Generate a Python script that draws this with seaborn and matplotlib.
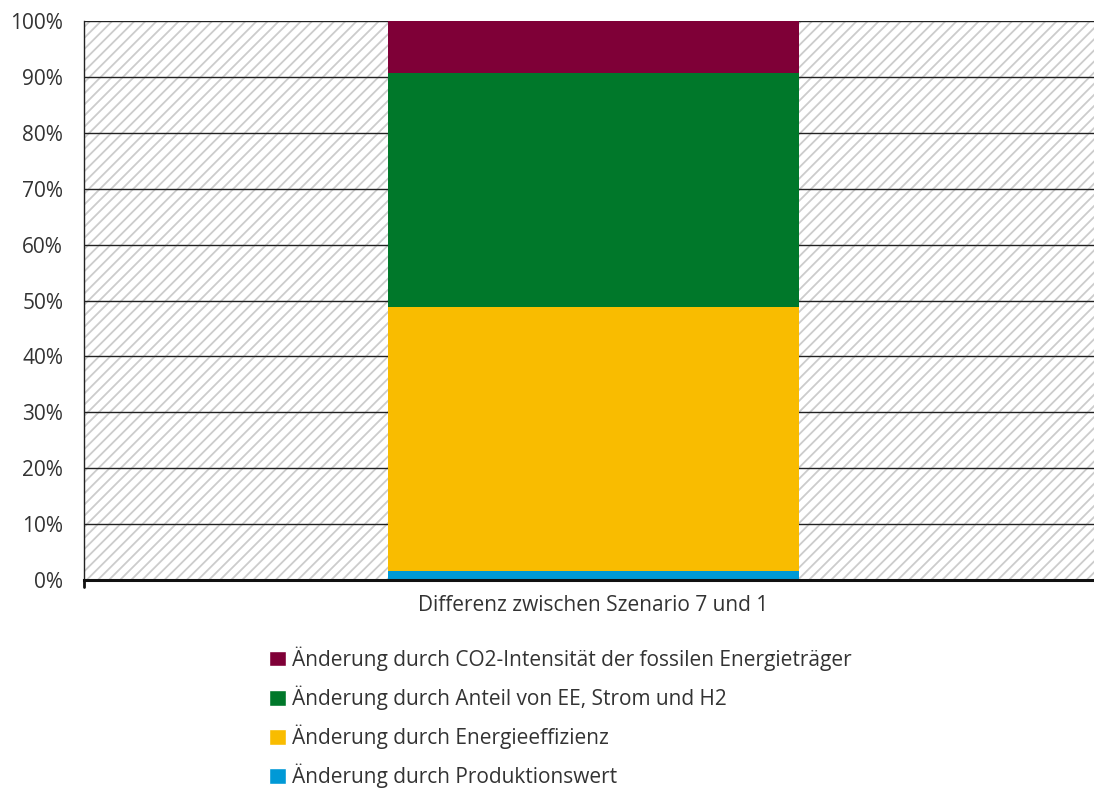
import pandas as pd
import matplotlib.pyplot as plt
import seaborn as sns
from matplotlib.patches import Rectangle, Patch
from matplotlib.ticker import PercentFormatter

sns.set_style("white")
plt.rcParams["font.family"] = ["Open Sans", "DejaVu Sans"]
plt.rcParams["hatch.color"] = "#cccccc"
plt.rcParams["hatch.linewidth"] = 1.3

category = ["Differenz zwischen Szenario 7 und 1"]
components = [
    "Änderung durch Produktionswert",
    "Änderung durch Energieeffizienz",
    "Änderung durch Anteil von EE, Strom und H2",
    "Änderung durch CO2-Intensität der fossilen Energieträger",
]
shares = [1.7, 47.2, 41.8, 9.3]
colors = ["#0099D6", "#F9BC00", "#00782A", "#7F0037"]

df = pd.DataFrame({"Szenario": category * len(components),
                   "Komponente": components,
                   "Anteil": shares})
df["bottom"] = df["Anteil"].cumsum() - df["Anteil"]

fig = plt.figure(figsize=(10.94, 7.9), dpi=100)
ax = fig.add_axes([0.0768, 0.2658, 0.9314, 0.7076])

# hatched plot area background
ax.add_patch(Rectangle((0, 0), 1, 1, transform=ax.transAxes, facecolor="white",
                       hatch="///", edgecolor="#cccccc", linewidth=0, zorder=0))

for i, row in df.iterrows():
    sns.barplot(x=[row["Szenario"]], y=[row["Anteil"]], bottom=row["bottom"],
                color=colors[i], width=0.403, saturation=1, ax=ax, zorder=3,
                linewidth=0)

ax.set_xlim(-0.5, 0.5)
ax.set_ylim(0, 100)
ax.set_yticks(range(0, 101, 10))
ax.yaxis.set_major_formatter(PercentFormatter(decimals=0))
ax.grid(axis="y", color="#222222", linewidth=1.0, zorder=1)
ax.set_axisbelow(True)
for s in ["top", "right"]:
    ax.spines[s].set_visible(False)
ax.spines["left"].set_color("#222222")
ax.spines["left"].set_linewidth(1.0)
ax.spines["bottom"].set_color("#111111")
ax.spines["bottom"].set_linewidth(2.2)
ax.spines["bottom"].set_zorder(5)
ax.tick_params(axis="y", labelsize=15, colors="#333333", length=0, pad=15)
ax.tick_params(axis="x", labelsize=15, colors="#333333", length=0, pad=11)
ax.set_xlabel("")
ax.set_ylabel("")
# small tick at lower left corner
ax.plot([0, 0], [0, -0.012], transform=ax.transAxes, color="#111111",
        linewidth=2, clip_on=False)

handles = [Patch(facecolor=colors[i], label=components[i]) for i in range(3, -1, -1)]
fig.legend(handles=handles, loc="upper left", bbox_to_anchor=(0.246, 0.182),
           frameon=False, fontsize=15, handlelength=0.8, handleheight=0.8,
           handletextpad=0.3, labelspacing=0.70, labelcolor="#333333",
           borderaxespad=0, borderpad=0)

fig.savefig("out.png", dpi=100)
